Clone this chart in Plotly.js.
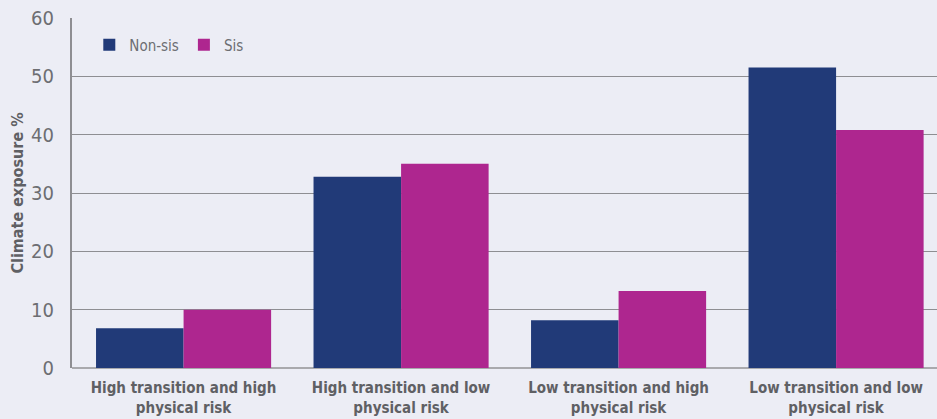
<!DOCTYPE html>
<html>
<head>
<meta charset="utf-8">
<script src="https://cdn.plot.ly/plotly-3.0.1.min.js"></script>
<style>html,body{margin:0;padding:0;background:#ecedf5;}</style>
</head>
<body>
<div id="chart" style="width:937px;height:419px;"></div>
<script>
const categories = [
  "High transition and high<br>physical risk",
  "High transition and low<br>physical risk",
  "Low transition and high<br>physical risk",
  "Low transition and low<br>physical risk"
];
const nonSis = [6.8, 32.8, 8.2, 51.5];
const sis = [10.0, 35.0, 13.2, 40.8];
const yTicks = [0, 10, 20, 30, 40, 50, 60];

const fontFam = '"Liberation Sans Narrow", "DejaVu Sans Condensed", Roboto, sans-serif';

const data = [
  {type: 'bar', name: 'Non-sis', x: [0,1,2,3], y: nonSis, marker: {color: '#213a78'}},
  {type: 'bar', name: 'Sis', x: [0,1,2,3], y: sis, marker: {color: '#ae268f'}}
];

const layout = {
  width: 937, height: 419,
  margin: {l: 72, r: 0, t: 18, b: 51},
  paper_bgcolor: '#ecedf5', plot_bgcolor: '#ecedf5',
  barmode: 'group', bargap: 0.195, bargroupgap: 0,
  font: {family: fontFam, color: '#66676b'},
  showlegend: true,
  legend: {orientation: 'h', x: 0.02, y: 0.97, xanchor: 'left', yanchor: 'top',
           bgcolor: 'rgba(0,0,0,0)', font: {size: 15, color: '#6d6e72'}, itemwidth: 30},
  xaxis: {
    range: [-0.513, 3.464],
    tickmode: 'array', tickvals: [0,1,2,3], ticktext: categories,
    tickfont: {size: 15, color: '#5f6064', family: fontFam, weight: 'bold'},
    showgrid: false, zeroline: false, showline: false,
    ticks: 'outside', ticklen: 6, tickcolor: 'rgba(0,0,0,0)', fixedrange: true
  },
  yaxis: {
    range: [0, 60], tickmode: 'array', tickvals: yTicks,
    tickfont: {size: 20, color: '#6d6e72'},
    showgrid: true, gridcolor: '#8e8e92', gridwidth: 1,
    zeroline: true, zerolinecolor: '#a9a9ad', zerolinewidth: 2,
    showline: true, linecolor: '#8e8e92', linewidth: 2,
    ticks: 'outside', ticklen: 12, tickcolor: 'rgba(0,0,0,0)',
    title: {text: 'Climate exposure %', font: {size: 16, color: '#5f6064', weight: 'bold'}, standoff: 4}
  }
};

Plotly.newPlot('chart', data, layout, {displayModeBar: false, staticPlot: true});
</script>
</body>
</html>
